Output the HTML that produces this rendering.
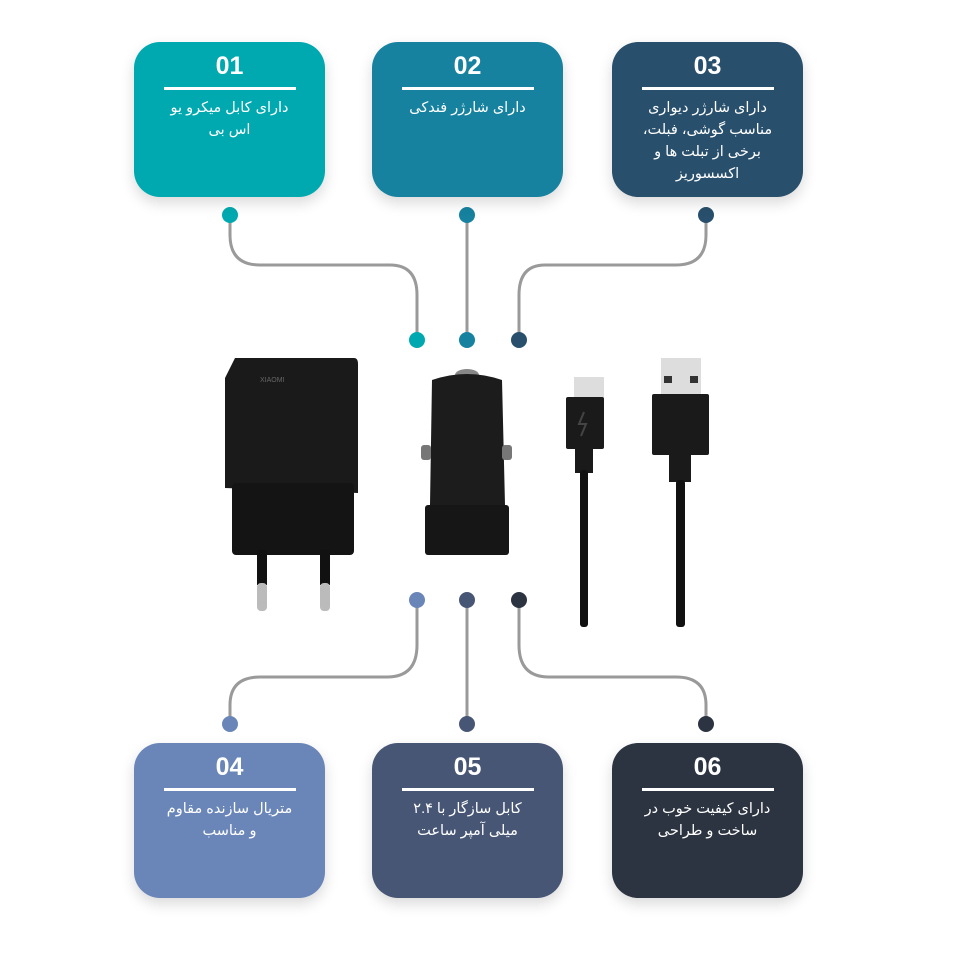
<!DOCTYPE html>
<html><head><meta charset="utf-8"><style>
body{margin:0;background:#fff;width:960px;height:960px;overflow:hidden;position:relative;font-family:"Liberation Sans","DejaVu Sans",sans-serif}
.b{position:absolute;width:191px;height:155px;border-radius:26px;color:#fff;text-align:center;box-shadow:0 6px 14px rgba(0,0,0,.15)}
.n{font-weight:bold;font-size:25px;margin-top:9px;height:30px;line-height:30px}
.l{margin:6px auto 0;width:132px;height:3px;background:#fff}
.t{direction:rtl;font-size:14.5px;line-height:22px;margin:7px 26px 0}
svg{position:absolute;left:0;top:0}
</style></head><body>
<svg width="960" height="960">
<g fill="none" stroke="#9a9a9a" stroke-width="3">
<path d="M230 215 V235 Q230 265 260 265 H390 Q417 265 417 295 V340"/>
<path d="M467 215 V340"/>
<path d="M706 215 V235 Q706 265 676 265 H545 Q519 265 519 295 V340"/>
<path d="M417 600 V645 Q417 677 387 677 H260 Q230 677 230 705 V724"/>
<path d="M467 600 V724"/>
<path d="M519 600 V645 Q519 677 549 677 H676 Q706 677 706 705 V724"/>
</g>
<circle cx="230" cy="215" r="8" fill="#00A9B0"/><circle cx="467" cy="215" r="8" fill="#1682A0"/><circle cx="706" cy="215" r="8" fill="#284F6C"/>
<circle cx="417" cy="340" r="8" fill="#00A9B0"/><circle cx="467" cy="340" r="8" fill="#1682A0"/><circle cx="519" cy="340" r="8" fill="#284F6C"/>
<circle cx="417" cy="600" r="8" fill="#6A86B8"/><circle cx="467" cy="600" r="8" fill="#485675"/><circle cx="519" cy="600" r="8" fill="#2C3442"/>
<circle cx="230" cy="724" r="8" fill="#6A86B8"/><circle cx="467" cy="724" r="8" fill="#485675"/><circle cx="706" cy="724" r="8" fill="#2C3442"/>
<path d="M235 358 L354 358 Q358 358 358 364 L358 493 L225 488 L225 378 Z" fill="#1a1a1a"/>
<rect x="232" y="483" width="122" height="72" rx="4" fill="#141414"/>
<rect x="257" y="550" width="10" height="35" fill="#111"/><rect x="320" y="550" width="10" height="35" fill="#111"/>
<rect x="257" y="583" width="10" height="28" rx="4" fill="#bbb"/><rect x="320" y="583" width="10" height="28" rx="4" fill="#bbb"/>
<text x="260" y="382" font-size="7" fill="#666">XIAOMI</text>
<ellipse cx="467" cy="375" rx="12" ry="6" fill="#888"/>
<path d="M432 380 Q467 368 502 380 L505 505 L430 505 Z" fill="#1c1c1c"/>
<rect x="425" y="505" width="84" height="50" rx="3" fill="#161616"/>
<rect x="421" y="445" width="10" height="15" rx="3" fill="#777"/><rect x="502" y="445" width="10" height="15" rx="3" fill="#777"/>
<rect x="574" y="377" width="30" height="22" fill="#ddd"/>
<rect x="566" y="397" width="38" height="52" rx="2" fill="#1a1a1a"/>
<path d="M584 412 l-5 12 h7 l-5 12" stroke="#444" stroke-width="2" fill="none"/>
<rect x="575" y="449" width="18" height="24" fill="#1a1a1a"/>
<rect x="580" y="470" width="8" height="157" rx="3" fill="#111"/>
<rect x="661" y="358" width="40" height="38" fill="#ddd"/>
<rect x="664" y="376" width="8" height="7" fill="#333"/><rect x="690" y="376" width="8" height="7" fill="#333"/>
<rect x="652" y="394" width="57" height="61" rx="2" fill="#1a1a1a"/>
<rect x="669" y="455" width="22" height="27" fill="#1a1a1a"/>
<rect x="676" y="480" width="9" height="147" rx="3" fill="#111"/>
</svg>
<div class="b" style="left:134px;top:42px;background:#00A9B0"><div class="n">01</div><div class="l"></div><div class="t">دارای کابل میکرو یو<br>اس بی</div></div>
<div class="b" style="left:372px;top:42px;background:#1682A0"><div class="n">02</div><div class="l"></div><div class="t">دارای شارژر فندکی</div></div>
<div class="b" style="left:612px;top:42px;background:#284F6C"><div class="n">03</div><div class="l"></div><div class="t">دارای شارژر دیواری<br>مناسب گوشی، فبلت،<br>برخی از تبلت ها و<br>اکسسوریز</div></div>
<div class="b" style="left:134px;top:743px;background:#6A86B8"><div class="n">04</div><div class="l"></div><div class="t">متریال سازنده مقاوم<br>و مناسب</div></div>
<div class="b" style="left:372px;top:743px;background:#485675"><div class="n">05</div><div class="l"></div><div class="t">کابل سازگار با ۲.۴<br>میلی آمپر ساعت</div></div>
<div class="b" style="left:612px;top:743px;background:#2C3442"><div class="n">06</div><div class="l"></div><div class="t">دارای کیفیت خوب در<br>ساخت و طراحی</div></div>
</body></html>
